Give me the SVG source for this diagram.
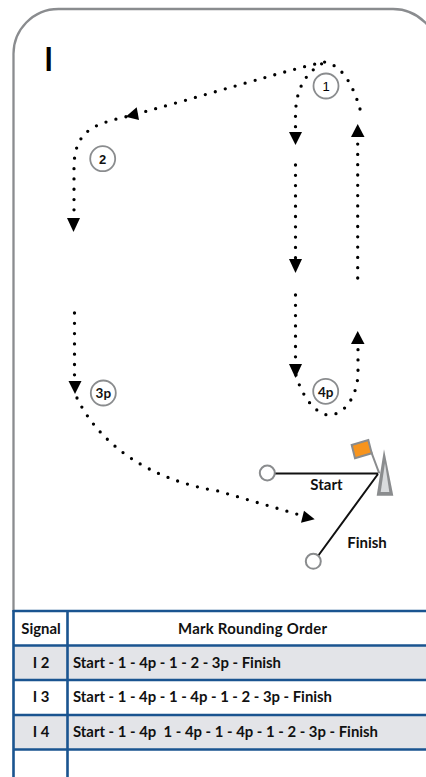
<svg xmlns="http://www.w3.org/2000/svg" width="426" height="777" viewBox="0 0 426 777">
<style>
text{font-family:"Lato","Liberation Sans",sans-serif;font-weight:700;fill:#111;white-space:pre}
.dot{fill:none;stroke:#000;stroke-width:3.3;stroke-linecap:round;stroke-dasharray:0 10.3}
.head{fill:#000}
.mark{fill:#fff;stroke:#8a8c8e;stroke-width:1.8}
.end{fill:#fff;stroke:#8a8c8e;stroke-width:2}
.ln{stroke:#111;stroke-width:2;fill:none}
.tb{stroke:#1a5490;stroke-width:2.6;fill:none}
.lbl{font-size:13.5px;text-anchor:middle}
.t{font-size:14.9px}
.c{text-anchor:middle}
</style>
<rect width="426" height="777" fill="#fff"/>
<path id="frame" d="M13.5 612V55A45 45 0 0 1 58.500 9H393A45 45 0 0 1 438 54" fill="none" stroke="#8a8c8f" stroke-width="2.300"/>
<text id="class-flag" transform="translate(48.600 71) scale(.78 1)" text-anchor="middle" style="font-family:'Liberation Sans',sans-serif;font-size:36px;fill:#000">I</text>
<g id="connectors">
<path class="dot" d="M360 109C355 92 345 66 325 62C300 66 190 100 125 117C95 124 74 130 74 168V210"/>
<path class="dot" d="M295.500 137V118C295 90 305 72 325 62"/>
<path class="dot" d="M295.500 165V258"/>
<path class="dot" d="M295.500 295V365"/>
<path class="dot" d="M296 375C303 400 318 415 329 415C345 415 358 395 358 372V346"/>
<path class="dot" d="M357.700 278V140"/>
<path class="dot" d="M74.500 313V380"/>
<path class="dot" d="M77 398C100 445 150 480 218 491L300 515"/>
<polygon class="head" points="289,132 302,132 295.500,145"/>
<polygon class="head" points="289,259 302,259 295.500,273"/>
<polygon class="head" points="289,364 302,364 295.500,378"/>
<polygon class="head" points="351,344 364.500,344 357.700,331"/>
<polygon class="head" points="351,137 364.500,137 357.700,124"/>
<polygon class="head" points="67,218 80,218 73.500,232"/>
<polygon class="head" points="68.500,381 81.500,381 75,394"/>
<polygon class="head" points="125.700,116.700 136.700,107.300 139,120"/>
<polygon class="head" points="304,510.700 314.700,519.300 301,522.700"/>
<path class="ln" d="M275 473.500H378M318 556L378 474"/>
</g>
<g id="mark-1"><circle class="mark" cx="326" cy="86" r="12.500"/><text class="lbl c" x="326" y="91" style="font-family:'Liberation Sans',sans-serif;font-weight:400;font-size:13px;fill:#000">1</text></g>
<g id="mark-2"><circle class="mark" cx="102.700" cy="158.700" r="12.500"/><text class="lbl c" x="102.700" y="163.500" style="font-family:'Liberation Sans',sans-serif;font-size:13px">2</text></g>
<g id="mark-3p"><circle class="mark" cx="103.300" cy="393" r="12.500"/><text class="lbl c" x="103.300" y="398">3p</text></g>
<g id="mark-4p"><circle class="mark" cx="325.700" cy="391.300" r="12.500"/><text class="lbl c" x="325.700" y="396.500">4p</text></g>
<g id="start-pin"><circle class="end" cx="267.300" cy="473" r="7.500"/></g>
<g id="finish-pin"><circle class="end" cx="313.300" cy="561.300" r="7.500"/></g>
<g id="committee-boat">
<polygon points="384,449.300 376.700,495.700 393.300,495.700" fill="#8a8c8e"/>
<polygon points="385,463 380.700,492 389.300,492" fill="#d9dbdd"/>
<path d="M370.500 450L379.300 473.300" stroke="#8a8c8e" stroke-width="2" fill="none"/>
<polygon points="351.700,445 368.300,440 371.700,453.300 355,458.300" fill="#f7941d" stroke="#8a8c8e" stroke-width="2"/>
</g>
<text id="start-label" x="326.500" y="490" text-anchor="middle" style="font-size:15px">Start</text>
<text id="finish-label" x="367" y="547.500" text-anchor="middle" style="font-size:15px">Finish</text>
<g id="table">
<rect x="13.500" y="646" width="412.500" height="34" fill="#e3e4e8"/>
<rect x="13.500" y="715" width="412.500" height="34" fill="#e3e4e8"/>
<path class="tb" d="M13.500 611H426M13.500 645.500H426M13.500 680H426M13.500 715H426M13.500 749.500H426M13.500 610V777M67.500 610V777"/>
<text class="t c" x="41" y="634">Signal</text>
<text class="t c" x="252.500" y="634" textLength="149" lengthAdjust="spacing">Mark Rounding Order</text>
<text class="t c" x="41" y="668">I 2</text>
<text class="t" x="73" y="668" textLength="208">Start - 1 - 4p - 1 - 2 - 3p - Finish</text>
<text class="t c" x="41" y="702">I 3</text>
<text class="t" x="73" y="702" textLength="259">Start - 1 - 4p - 1 - 4p - 1 - 2 - 3p - Finish</text>
<text class="t c" x="41" y="737">I 4</text>
<text class="t" x="73" y="737" textLength="305">Start - 1 - 4p  1 - 4p - 1 - 4p - 1 - 2 - 3p - Finish</text>
</g>
</svg>
